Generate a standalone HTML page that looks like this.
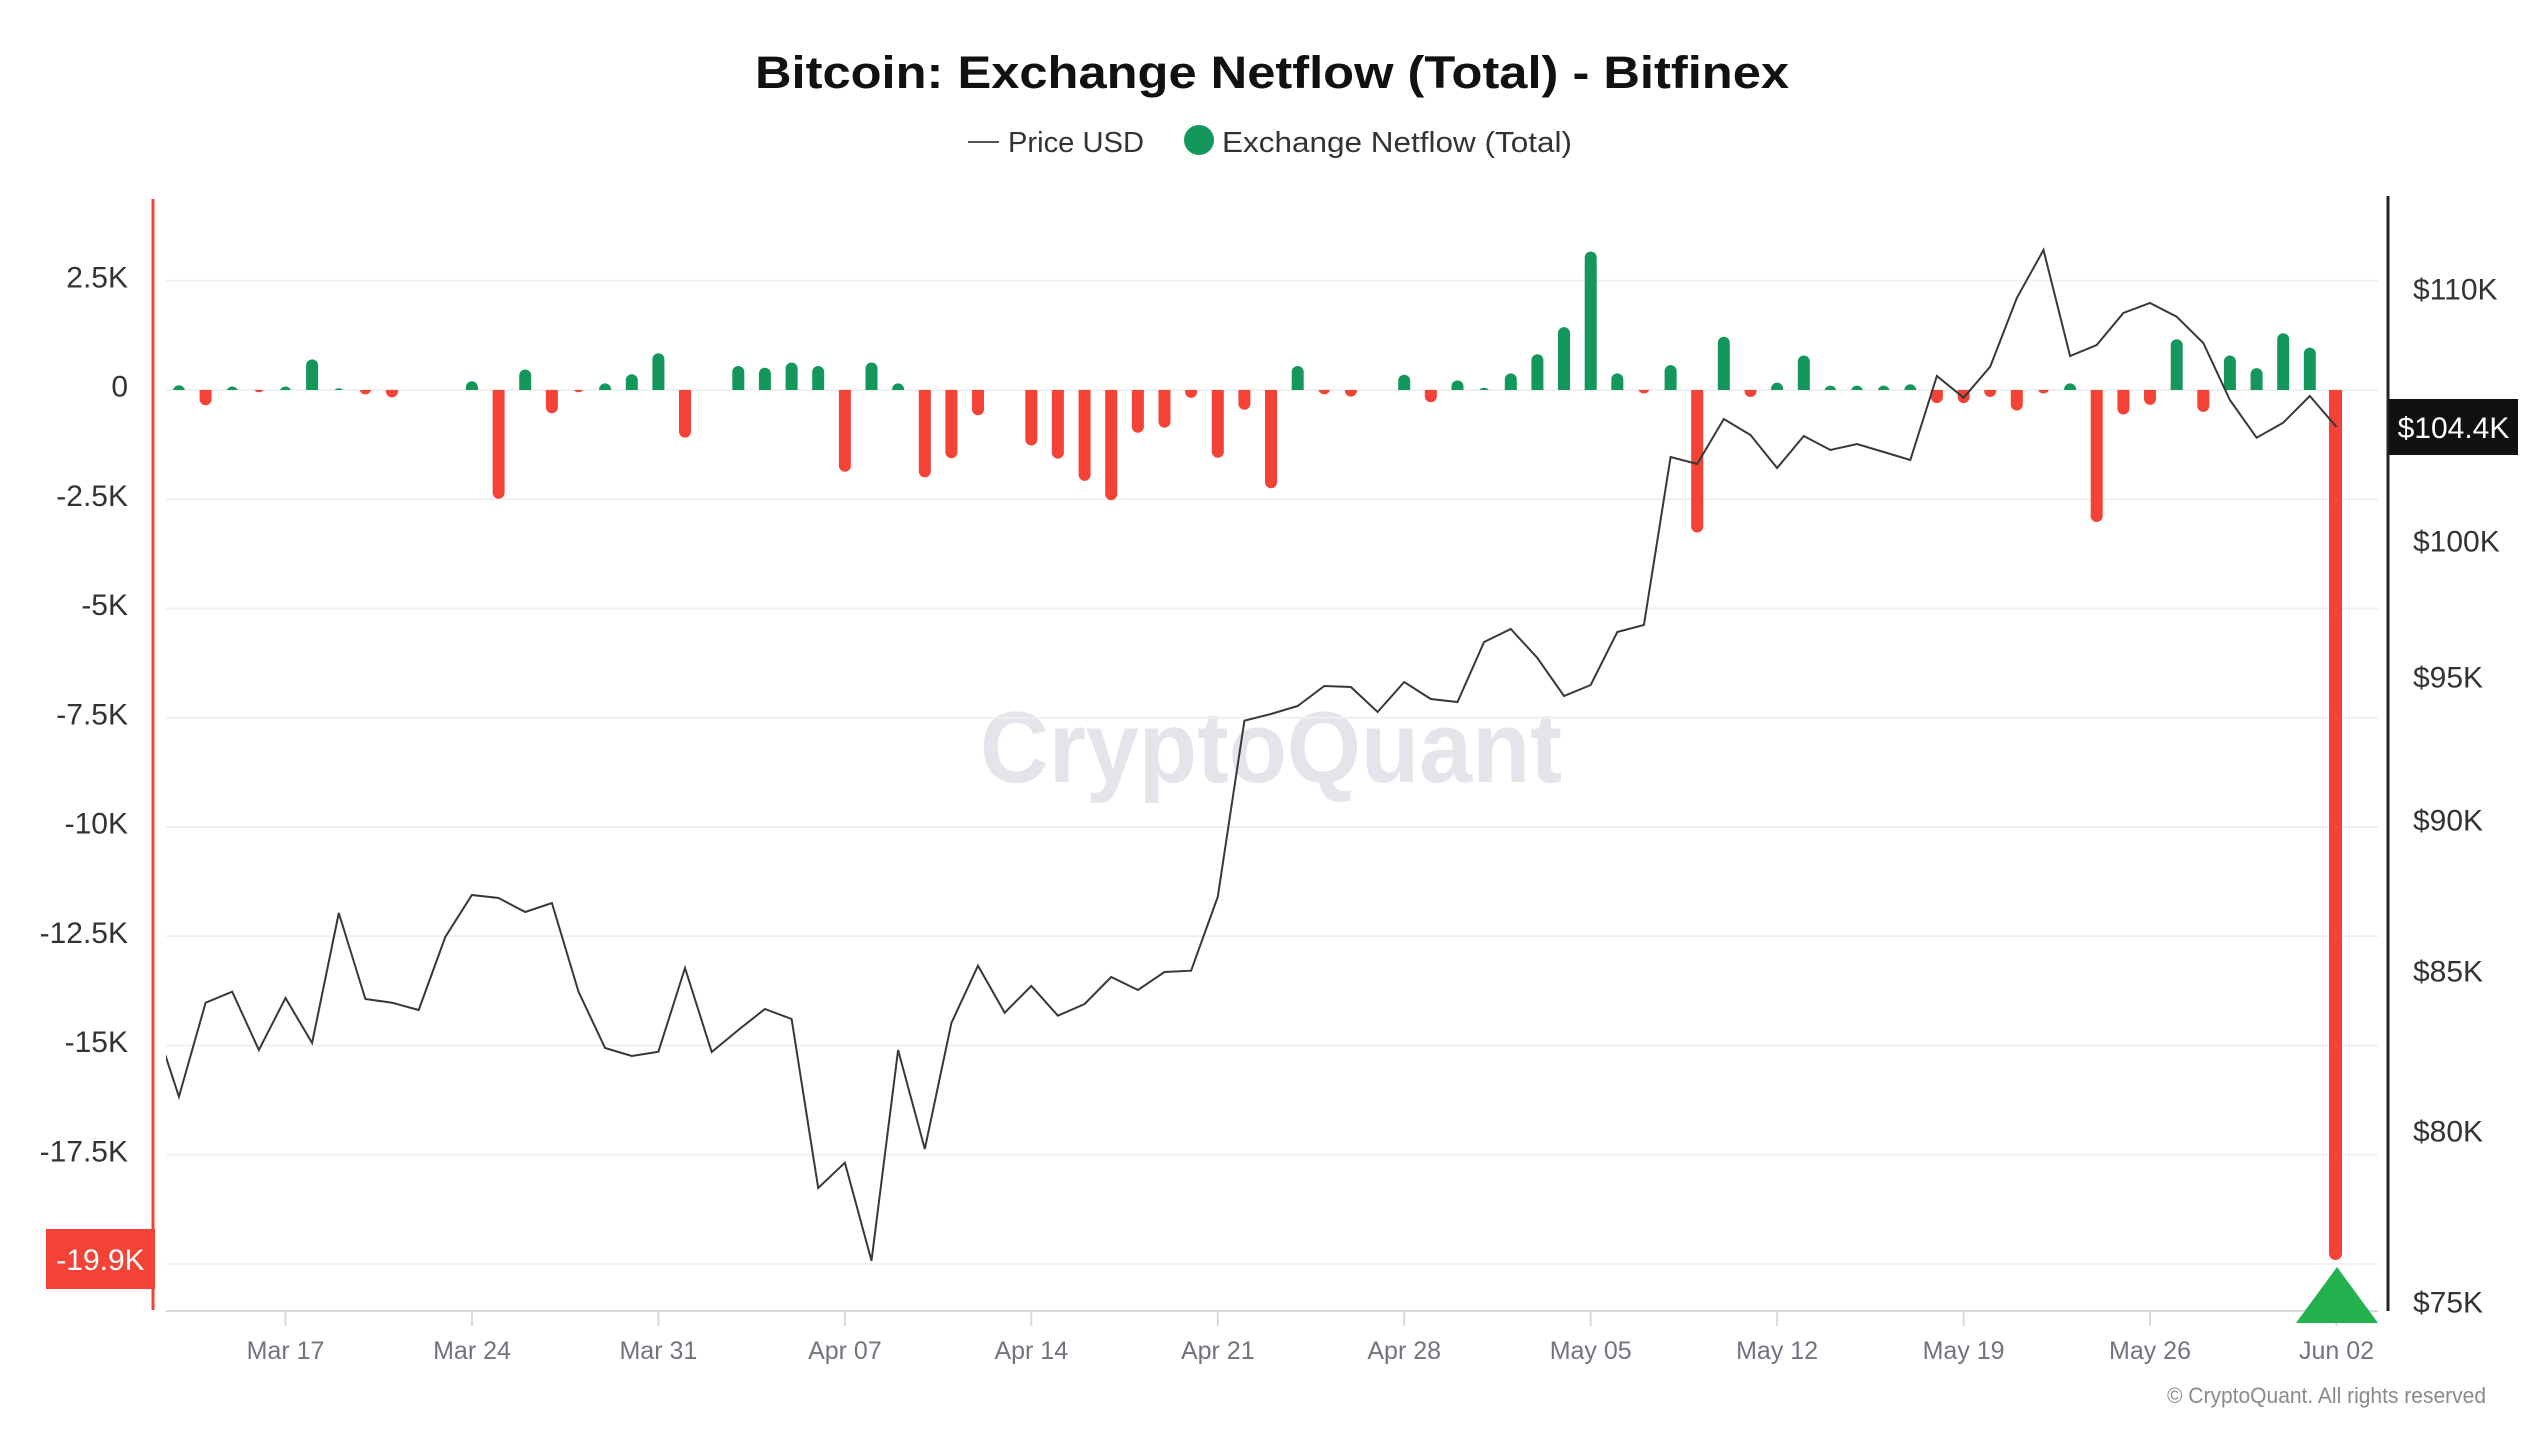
<!DOCTYPE html>
<html>
<head>
<meta charset="utf-8">
<style>
  html, body { margin: 0; padding: 0; background: #ffffff; }
  body { width: 2534px; height: 1438px; overflow: hidden; }
  svg { display: block; }
  text { font-family: "Liberation Sans", "DejaVu Sans", sans-serif; }
</style>
</head>
<body>
<svg xmlns="http://www.w3.org/2000/svg" width="2534" height="1438" viewBox="0 0 2534 1438">
  <defs>
    <clipPath id="up"><rect x="150" y="150" width="2240" height="240"/></clipPath>
    <clipPath id="down"><rect x="150" y="390" width="2240" height="930"/></clipPath>
    <clipPath id="plot"><rect x="166" y="190" width="2215" height="1125"/></clipPath>
  </defs>

  <rect x="0" y="0" width="2534" height="1438" fill="#ffffff"/>

  <!-- Title -->
  <text x="1272" y="88" text-anchor="middle" font-size="45" font-weight="bold" fill="#111111" textLength="1034" lengthAdjust="spacingAndGlyphs">Bitcoin: Exchange Netflow (Total) - Bitfinex</text>

  <!-- Legend -->
  <line x1="968" y1="142" x2="999" y2="142" stroke="#555555" stroke-width="2"/>
  <text x="1008" y="152" font-size="29" fill="#333333" textLength="136" lengthAdjust="spacingAndGlyphs">Price USD</text>
  <circle cx="1199" cy="140" r="15" fill="#14975a"/>
  <text x="1222" y="152" font-size="29" fill="#333333" textLength="350" lengthAdjust="spacingAndGlyphs">Exchange Netflow (Total)</text>

  <!-- Watermark -->
  <text x="980" y="782" font-size="101" font-weight="bold" fill="#e4e4eb" textLength="582" lengthAdjust="spacingAndGlyphs">CryptoQuant</text>

  <!-- Gridlines -->
  <g stroke="#f0f0f2" stroke-width="2">
    <line x1="166" y1="280.75" x2="2378" y2="280.75"/>
    <line x1="166" y1="390" x2="2378" y2="390"/>
    <line x1="166" y1="499.25" x2="2378" y2="499.25"/>
    <line x1="166" y1="608.5" x2="2378" y2="608.5"/>
    <line x1="166" y1="717.75" x2="2378" y2="717.75"/>
    <line x1="166" y1="827" x2="2378" y2="827"/>
    <line x1="166" y1="936.25" x2="2378" y2="936.25"/>
    <line x1="166" y1="1045.5" x2="2378" y2="1045.5"/>
    <line x1="166" y1="1154.75" x2="2378" y2="1154.75"/>
    <line x1="166" y1="1264" x2="2378" y2="1264"/>
  </g>

  <!-- Left axis labels -->
  <g font-size="30" fill="#333333" text-anchor="end">
    <text x="128" y="287.25">2.5K</text>
    <text x="128" y="396.5">0</text>
    <text x="128" y="505.75">-2.5K</text>
    <text x="128" y="615">-5K</text>
    <text x="128" y="724.25">-7.5K</text>
    <text x="128" y="833.5">-10K</text>
    <text x="128" y="942.75">-12.5K</text>
    <text x="128" y="1052">-15K</text>
    <text x="128" y="1161.25">-17.5K</text>
  </g>

  <!-- Right axis labels -->
  <g font-size="30" fill="#333333">
    <text x="2413" y="299.5">$110K</text>
    <text x="2413" y="551.5">$100K</text>
    <text x="2413" y="687.5">$95K</text>
    <text x="2413" y="830.5">$90K</text>
    <text x="2413" y="981.5">$85K</text>
    <text x="2413" y="1141.5">$80K</text>
    <text x="2413" y="1312.5">$75K</text>
  </g>

  <!-- X axis -->
  <line x1="166" y1="1311" x2="2378" y2="1311" stroke="#d8d8e0" stroke-width="2"/>
  <g stroke="#d8d8e0" stroke-width="2">
    <line x1="285.5" y1="1311" x2="285.5" y2="1326"/>
    <line x1="472" y1="1311" x2="472" y2="1326"/>
    <line x1="658.4" y1="1311" x2="658.4" y2="1326"/>
    <line x1="844.9" y1="1311" x2="844.9" y2="1326"/>
    <line x1="1031.3" y1="1311" x2="1031.3" y2="1326"/>
    <line x1="1217.8" y1="1311" x2="1217.8" y2="1326"/>
    <line x1="1404.2" y1="1311" x2="1404.2" y2="1326"/>
    <line x1="1590.7" y1="1311" x2="1590.7" y2="1326"/>
    <line x1="1777.1" y1="1311" x2="1777.1" y2="1326"/>
    <line x1="1963.6" y1="1311" x2="1963.6" y2="1326"/>
    <line x1="2150" y1="1311" x2="2150" y2="1326"/>
    <line x1="2336.5" y1="1311" x2="2336.5" y2="1326"/>
  </g>
  <g font-size="25" fill="#737380" text-anchor="middle">
    <text x="285.5" y="1359">Mar 17</text>
    <text x="472" y="1359">Mar 24</text>
    <text x="658.4" y="1359">Mar 31</text>
    <text x="844.9" y="1359">Apr 07</text>
    <text x="1031.3" y="1359">Apr 14</text>
    <text x="1217.8" y="1359">Apr 21</text>
    <text x="1404.2" y="1359">Apr 28</text>
    <text x="1590.7" y="1359">May 05</text>
    <text x="1777.1" y="1359">May 12</text>
    <text x="1963.6" y="1359">May 19</text>
    <text x="2150" y="1359">May 26</text>
    <text x="2336.5" y="1359">Jun 02</text>
  </g>

  <!-- Green bars (positive) -->
  <path clip-path="url(#up)" fill="none" stroke="#14975a" stroke-width="12" stroke-linecap="round"
    d="M178.96 396V391.2 M232.2 396V392.5 M285.5 396V392.5 M312.1 396V365.4 M338.8 396V394.3
       M471.9 396V387.3 M525.2 396V375.5 M605.1 396V389.4 M631.8 396V380.3 M658.4 396V359.3
       M738.3 396V372 M764.9 396V373.7 M791.6 396V368.5 M818.2 396V372 M871.5 396V368.5 M898.1 396V389.4
       M1297.7 396V372 M1404.2 396V380.7 M1457.5 396V386.4 M1484.1 396V393.8 M1510.8 396V379.4
       M1537.4 396V360.2 M1564 396V333.1 M1590.7 396V257.5 M1617.3 396V379.4 M1670.6 396V371.1
       M1723.8 396V342.7 M1777.1 396V388.6 M1803.8 396V361.5 M1830.4 396V391.6 M1857 396V391.6
       M1883.7 396V391.6 M1910.3 396V390.3 M2070.1 396V389.4 M2176.7 396V345.3 M2229.9 396V361.5
       M2256.6 396V374.1 M2283.2 396V339.2 M2309.8 396V353.6"/>

  <!-- Red bars (negative) -->
  <path clip-path="url(#down)" fill="none" stroke="#f44336" stroke-width="12" stroke-linecap="round"
    d="M205.6 384V399.3 M258.9 384V386.2 M365.4 384V388.4 M392 384V391.4 M498.6 384V492.8
       M551.9 384V407.2 M578.5 384V386.2 M685 384V431.6 M844.9 384V465.7 M924.8 384V471.4
       M951.4 384V452.2 M978 384V409.3 M1031.3 384V439.5 M1057.9 384V452.6 M1084.6 384V474.9
       M1111.2 384V494.1 M1137.9 384V426.8 M1164.5 384V421.6 M1191.1 384V391.9 M1217.8 384V451.7
       M1244.4 384V403.7 M1271 384V482.3 M1324.3 384V388.4 M1350.9 384V390.6 M1430.8 384V396.2
       M1643.9 384V387.5 M1697.2 384V526.5 M1750.5 384V391 M1936.9 384V397.1 M1963.6 384V397.1
       M1990.2 384V391 M2016.8 384V404.5 M2043.5 384V387.5 M2096.7 384V516 M2123.4 384V408.5
       M2150 384V398.9 M2203.3 384V405.9"/>
  <path clip-path="url(#down)" fill="none" stroke="#f44336" stroke-width="13" stroke-linecap="round"
    d="M2335.5 383V1253.5"/>

  <!-- Price line -->
  <polyline clip-path="url(#plot)" fill="none" stroke="#383838" stroke-width="2" stroke-linejoin="miter"
    points="151.8,1014 178.96,1096.7 205.6,1002.7 232.2,991.7 258.9,1050 285.5,998 312.1,1043 338.8,913
    365.4,999 392,1002.7 418.7,1010 445.3,937 471.9,895 498.6,898 525.2,912 551.9,903 578.5,991.7
    605.1,1048 631.8,1056 658.4,1051.7 685,968 711.7,1052 738.3,1030 764.9,1009 791.6,1019 818.2,1188
    844.9,1162.7 871.5,1260.7 898.1,1050 924.8,1149 951.4,1023 978,965.7 1004.7,1012.7 1031.3,986
    1057.9,1015.7 1084.6,1004 1111.2,977 1137.9,990 1164.5,972 1191.1,970.7 1217.8,896.7 1244.4,720.7
    1271,714 1297.7,706 1324.3,686 1350.9,687 1377.6,712 1404.2,682 1430.8,699 1457.5,702 1484.1,642
    1510.8,629 1537.4,658 1564,696 1590.7,685 1617.3,632 1643.9,625 1670.6,457 1697.2,464 1723.8,419
    1750.5,435 1777.1,468 1803.8,436 1830.4,450 1857,444 1883.7,452 1910.3,460 1936.9,376 1963.6,397.7
    1990.2,366.7 2016.8,298 2043.5,250 2070.1,356 2096.7,345 2123.4,313 2150,303 2176.7,316.7
    2203.3,343 2229.9,400 2256.6,437.7 2283.2,422.7 2309.8,396 2336.5,427"/>

  <!-- Green triangle marker -->
  <polygon points="2337,1267 2296,1323 2378,1323" fill="#23b14d"/>

  <!-- Left axis line -->
  <line x1="153" y1="199" x2="153" y2="1310" stroke="#f44336" stroke-width="3"/>
  <!-- Right axis line -->
  <line x1="2388" y1="196" x2="2388" y2="1311" stroke="#222222" stroke-width="3"/>

  <!-- -19.9K badge -->
  <rect x="46" y="1229" width="109" height="60" fill="#f44336"/>
  <text x="100.5" y="1270" font-size="30" fill="#ffffff" text-anchor="middle">-19.9K</text>

  <!-- $104.4K badge -->
  <rect x="2389" y="399" width="129" height="56" fill="#111111"/>
  <text x="2453.5" y="438" font-size="30" fill="#ffffff" text-anchor="middle">$104.4K</text>

  <!-- Copyright -->
  <text x="2167" y="1403" font-size="22" fill="#8a8a8a" textLength="319" lengthAdjust="spacingAndGlyphs">© CryptoQuant. All rights reserved</text>
</svg>
</body>
</html>
